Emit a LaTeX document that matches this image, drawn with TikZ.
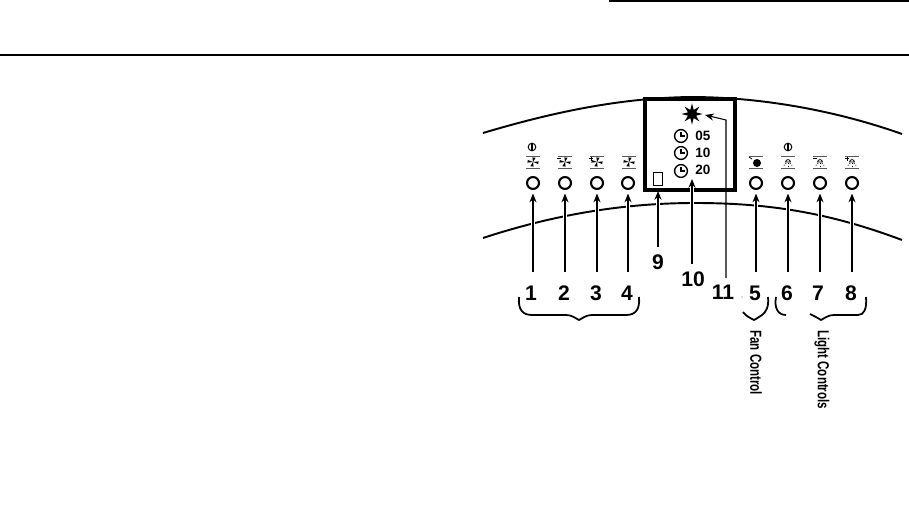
\documentclass[tikz,border=0pt]{standalone}
\usepackage{fontspec}
\setmainfont{Liberation Sans}
\newfontfamily\condfont[FakeStretch=0.72]{Liberation Sans}
\usetikzlibrary{arrows.meta,shapes.geometric}
\tikzset{
  knob/.style={circle,draw=black,line width=1.2pt,minimum size=6.8pt,inner sep=0pt},
  keynum/.style={inner sep=0pt,font=\fontsize{12}{12}\selectfont\bfseries},
  timenum/.style={inner sep=0pt,font=\fontsize{7.7}{7.7}\selectfont\bfseries,anchor=west},
  sidetext/.style={inner sep=0pt,rotate=-90,anchor=west,font=\fontsize{9.1}{9.1}\condfont\bfseries},
  leader/.style={line width=0.6pt,-{Stealth[length=5pt,width=4pt]},shorten >=2pt,preaction={draw=white,line width=2pt,-,shorten >=4pt}},
  panelline/.style={line width=1.1pt},
  brace/.style={line width=1pt},
  iconrule/.style={line width=0.35pt,black!65},
  iconink/.style={line width=0.45pt}
}
\newcommand{\clockface}[1]{%
  \draw[line width=0.8pt] #1 circle (6.4);
  \draw[line width=0.6pt] #1 ++(0,-4.2) -- ++(0,4.2) -- ++(3.8,0);}
\newcommand{\iconrules}[1]{%
  \draw[iconrule] #1 ++(-7,-6) -- ++(14,0);
  \draw[iconrule] #1 ++(-7,6) -- ++(14,0);}
\newcommand{\fanmark}[1]{%
  \iconrules{#1}
  \fill #1 -- ++(-0.6,-4.6) -- ++(3.2,0.4) -- cycle;
  \fill #1 -- ++(5.6,-0.6) -- ++(-0.4,2.6) -- cycle;
  \fill #1 -- ++(0.6,4.6) -- ++(-3.2,-0.4) -- cycle;
  \fill #1 -- ++(-5.6,0.6) -- ++(0.4,-2.6) -- cycle;}
\newcommand{\lampmark}[1]{%
  \iconrules{#1}
  \draw[iconink] #1 ++(-2.4,0) arc (180:360:2.4) -- cycle;
  \draw[iconink,densely dotted] #1 ++(-2,1) -- ++(-3,3.5);
  \draw[iconink,densely dotted] #1 ++(0,1) -- ++(0,4);
  \draw[iconink,densely dotted] #1 ++(2,1) -- ++(3,3.5);}
\newcommand{\powermark}[1]{%
  \draw[line width=0.55pt] #1 circle (3.8);
  \draw[line width=0.6pt] #1 ++(0,-3.8) -- ++(0,7.6);}
\begin{document}
\begin{tikzpicture}[x=0.02cm,y=-0.02cm]
\useasboundingbox (0,0) rectangle (909,527);

% page rules
\draw[line width=1pt] (609,1) -- (909,1);
\draw[line width=1.1pt] (0,55) -- (909,55);

% panel edges
\draw[panelline] (483,133) .. controls (560,110) and (625,98) .. (690,97) .. controls (765,97) and (840,112) .. (902,134);
\draw[panelline] (483,238) .. controls (550,216) and (620,203) .. (695,203) .. controls (770,203) and (830,213) .. (902,240);

% timer window
\fill[white] (645,99) rectangle (735,190);
\draw[line width=2.1pt] (645,99) rectangle (735,190);
\node[star,star points=8,star point ratio=2.4,fill=black,inner sep=0pt,minimum size=12pt] (burst) at (692,114) {};
\clockface{(681,136)}
\clockface{(681,153)}
\clockface{(681,171)}
\node[timenum] (t05) at (695,136) {05};
\node[timenum] (t10) at (695,153) {10};
\node[timenum] (t20) at (695,170) {20};
\node[draw,line width=0.5pt,minimum width=5.4pt,minimum height=7.8pt,inner sep=0pt] (lamp) at (658,179) {};

% keys
\foreach \k/\x in {1/533,2/565,3/597,4/628,5/756,6/788,7/820,8/852}{
  \node[knob] (k\k) at (\x,183) {};
  \coordinate (s\k) at (\x,272);
}
\powermark{(532,147)}
\powermark{(788,147)}
\fanmark{(533,162)}
\fanmark{(565,162)}
\fanmark{(597,162)}
\fanmark{(629,162)}
\iconrules{(756,162)}
\fill (757,163) circle (4);
\lampmark{(788,162)}
\lampmark{(820,162)}
\lampmark{(852,162)}

% minus and plus signs
\draw[iconink] (557,158.5) -- (561,158.5);
\draw[iconink] (589,158.5) -- (593,158.5) (591,156.5) -- (591,160.5);
\draw[iconink] (813,158.5) -- (817,158.5);
\draw[iconink] (845,158.5) -- (849,158.5) (847,156.5) -- (847,160.5);
\draw[iconink] (749,157) -- (752,159);

% numbers
\foreach \k/\x in {1/531,2/564,3/596,4/627,5/755,6/787,7/818,8/851}{
  \node[keynum] (n\k) at (\x,293) {\k};
}
\node[keynum] (n9) at (658,262) {9};
\node[keynum] (n10) at (693,279) {10};
\node[keynum] (n11) at (723,292) {11};
\fill[black!60] (742,297) circle (0.7);

% leaders
\foreach \k in {1,...,8}{
  \draw[leader] (s\k) -- (k\k);
}
\coordinate (s9) at (658,247);
\coordinate (s10) at (692,264);
\coordinate (s11) at (726,278);
\coordinate (b11) at (726,120);
\coordinate (tip9) at (658,191);
\coordinate (tip10) at (692,179);
\coordinate (tip11) at (705,115);
\draw[leader,shorten >=0pt,preaction={shorten >=2pt}] (s9) -- (tip9);
\draw[leader,shorten >=0pt,preaction={shorten >=2pt}] (s10) -- (tip10);
\draw[line width=0.6pt,-{Stealth[length=5pt,width=4pt]}] (s11) -- (b11) -- (tip11);

% braces
\draw[brace] (519,297) .. controls (518,309) and (522,315) .. (532,315) -- (566,315) .. controls (572,315) and (575,318) .. (579,320) .. controls (583,318) and (586,315) .. (592,315) -- (626,315) .. controls (636,315) and (640,309) .. (639,297);
\draw[brace] (743,312) .. controls (746,316) and (750,318) .. (754,320) .. controls (758,318) and (760,316) .. (762,315) .. controls (766,312) and (769,307) .. (768,297);
\draw[brace] (776,297) .. controls (774,308) and (778,315) .. (786,315);
\draw[brace] (810,314) .. controls (814,316) and (818,318) .. (821,320) .. controls (825,318) and (828,315) .. (834,315) -- (858,315) .. controls (864,315) and (867,309) .. (866,297);

% group labels
\node[sidetext] (fan) at (756,330) {Fan Control};
\node[sidetext] (light) at (822,330) {Light Controls};
\end{tikzpicture}
\end{document}
